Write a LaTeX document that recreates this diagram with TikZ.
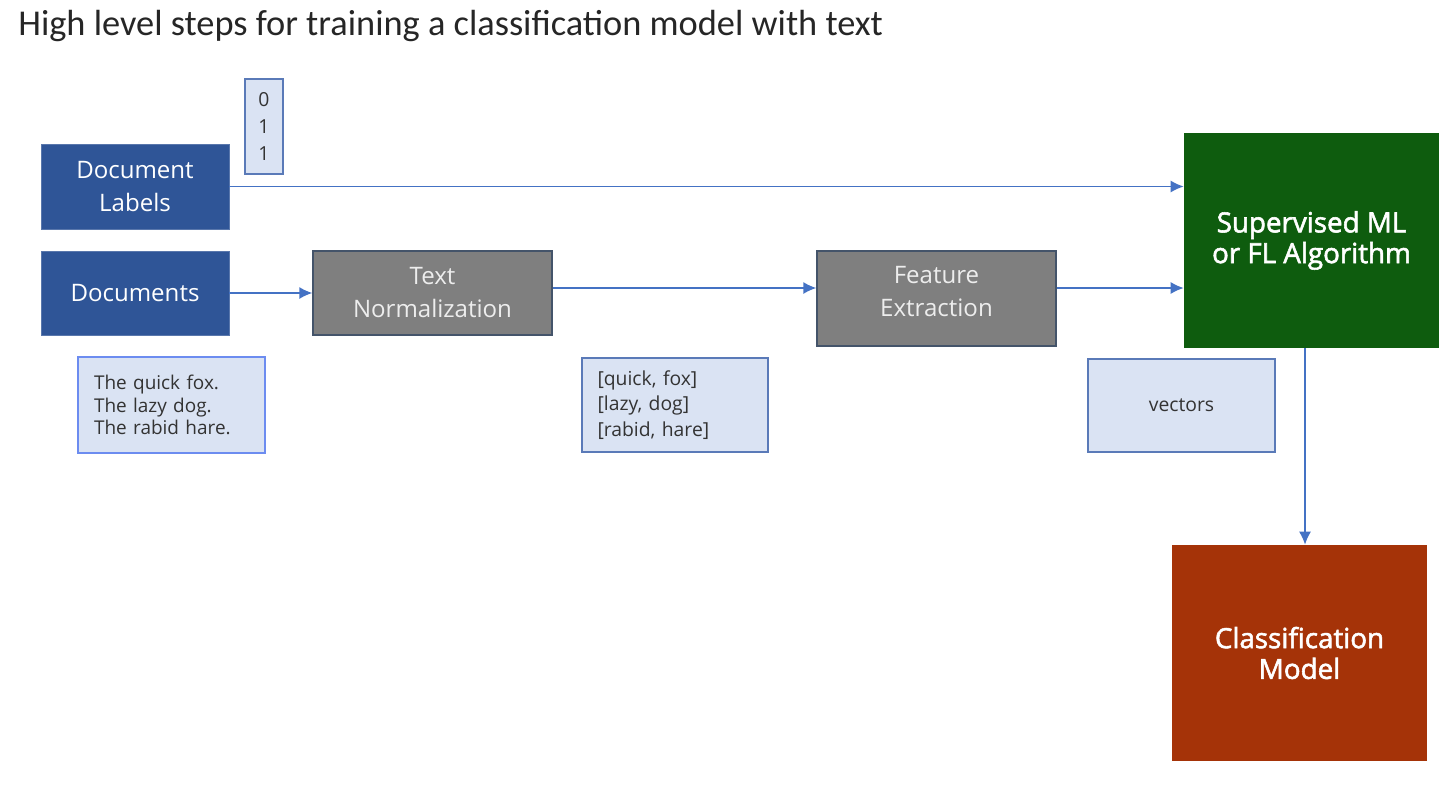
\documentclass[tikz,border=0pt]{standalone}
\usepackage{fontspec}
\setmainfont{Open Sans}
\newfontfamily\titlefont{Carlito}
\newfontfamily\semifont[FakeBold=2]{Open Sans}
\usetikzlibrary{arrows.meta,positioning}

\definecolor{docblue}{HTML}{2F5597}
\definecolor{stepgray}{HTML}{7F7F7F}
\definecolor{stepedge}{HTML}{44546A}
\definecolor{paleblue}{HTML}{DAE3F3}
\definecolor{paleedge}{HTML}{5A7AB8}
\definecolor{brightedge}{HTML}{6C8CF0}
\definecolor{algogreen}{HTML}{0E5C0E}
\definecolor{modelrust}{HTML}{A53308}
\definecolor{arrowblue}{HTML}{4472C4}

\begin{document}
\begin{tikzpicture}[x=0.02cm,y=-0.02cm]
    \tikzstyle{db}=[rectangle,fill=docblue,draw=docblue!80!white,text=white,align=center,
        inner sep=0pt,font=\fontsize{13.7}{18.8}\selectfont,minimum width=3.76cm]
    \tikzstyle{gy}=[rectangle,fill=stepgray,draw=stepedge,thick,text=white!93!black,align=center,
        inner sep=0pt,font=\fontsize{13.7}{18.8}\selectfont,minimum width=4.78cm]
    \tikzstyle{lb}=[rectangle,fill=paleblue,draw=paleedge,thick,text=black!80,inner sep=0pt]
    \tikzstyle{big}=[rectangle,text=white,align=center,inner sep=0pt,
        font=\semifont\fontsize{15.8}{17.5}\selectfont,minimum width=5.1cm]
    \tikzstyle{ar}=[draw=arrowblue,thick,-{Latex[length=2.6mm,width=2.4mm]}]

    \useasboundingbox (0,0) rectangle (1453,784);

    \node [anchor=west,text=black!85,font=\titlefont\fontsize{20.7}{24}\selectfont,inner sep=0pt]
        (title) at (18,26) {High level steps for training a classification model with text};

    \node [db,minimum height=1.70cm] (dl) at (135,186.5) {Document\\Labels};
    \node [db,minimum height=1.68cm] (docs) at (135,293) {Documents};
    \node [gy,minimum height=1.68cm] (tn) at (432.5,293) {Text\\Normalization};
    \node [gy,minimum height=1.90cm,text depth=0.27cm] (fe) at (936.5,298.5) {Feature\\Extraction};
    \node [big,fill=algogreen,minimum height=4.30cm] (ml) at (1311.5,240.5) {Supervised ML\\or FL Algorithm};
    \node [big,fill=modelrust,minimum height=4.32cm] (clf) at (1299.5,653) {Classification\\Model};

    \node [lb,minimum width=0.76cm,minimum height=1.90cm,align=center,
        font=\fontsize{11}{15.3}\selectfont] (lab) at (264,126.5) {0\\1\\1};
    \node [lb,draw=brightedge,minimum width=3.74cm,minimum height=1.92cm,align=left,text width=3.1cm,
        font=\fontsize{10.8}{13}\selectfont] (sent) at (171.5,405) {The quick fox.\\The lazy dog.\\The rabid hare.};
    \node [lb,minimum width=3.72cm,minimum height=1.88cm,align=left,text width=3.1cm,
        font=\fontsize{11}{14.7}\selectfont] (tok) at (675,405) {{[quick, fox]}\\{[lazy, dog]}\\{[rabid, hare]}};
    \node [lb,minimum width=3.74cm,minimum height=1.86cm,
        font=\fontsize{11}{14}\selectfont] (vec) at (1181.5,405.5) {vectors};

    % connectors
    \draw [ar] (dl.east) -- (dl.east -| ml.west);
    \draw [ar] (docs.east) -- (tn.west);
    \draw [ar] ([yshift=0.1cm]tn.east) -- ([yshift=0.1cm]tn.east -| fe.west);
    \draw [ar] ([yshift=0.21cm]fe.east) -- ([yshift=0.21cm]fe.east -| ml.west);
    \draw [ar] ([xshift=-0.13cm]ml.south) -- ([xshift=-0.13cm]ml.south |- clf.north);
\end{tikzpicture}
\end{document}
